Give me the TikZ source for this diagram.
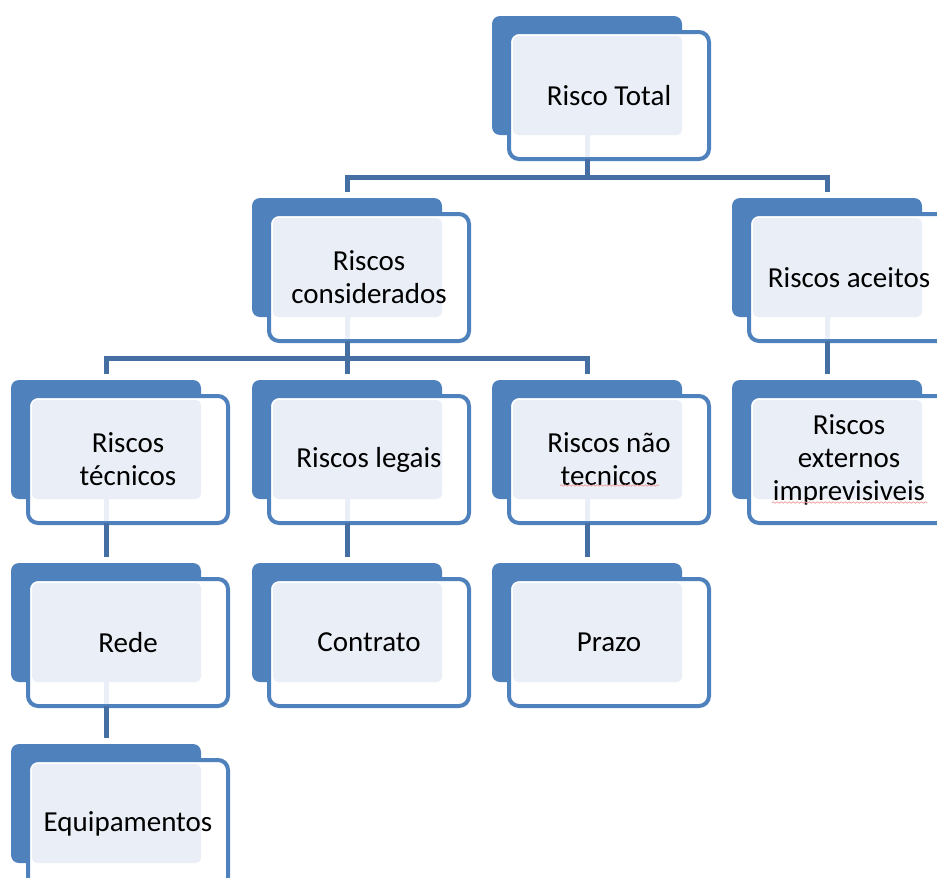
\documentclass[tikz,border=0pt]{standalone}
\usepackage{fontspec}
\setmainfont{Carlito}
\usetikzlibrary{calc,decorations.pathmorphing}
\definecolor{bblue}{HTML}{4F81BD}
\definecolor{cblue}{HTML}{456FA3}
\definecolor{lfill}{HTML}{EAEFF7}
\definecolor{spell}{HTML}{F2A3A3}
\tikzset{
  backbox/.style={rectangle, fill=bblue, rounded corners=8pt, minimum width=190pt, minimum height=119pt, inner sep=0pt, outer sep=0pt, anchor=north west},
  frontbox/.style={rectangle, draw=bblue, line width=4pt, fill=white, rounded corners=10pt, minimum width=200pt, minimum height=127pt, inner sep=0pt, outer sep=0pt, anchor=north west},
  conn/.style={draw=cblue, line width=5pt},
  stripe/.style={draw=lfill, line width=5pt},
  lbl/.style={align=center, inner sep=0pt, text=black, font=\fontsize{29}{33}\selectfont},
  spellline/.style={draw=spell, line width=0.8pt, decorate, decoration={snake, amplitude=0.7pt, segment length=4pt}}
}
\newcommand\riskbox[4]{%
  \node[backbox] (#1-back) at (#2,#3) {};
  \node[frontbox] (#1-front) at ($(#2,#3)+(17,16)$) {};
  \fill[lfill, rounded corners=5pt] ($(#1-front.north west)+(4,4)$) rectangle (#1-back.south east);
  \node[lbl] (#1-label) at (#1-front.center) {#4};
}
\newcommand\parentstripe[1]{%
  \draw[stripe] (#1-back.south) -- ([yshift=2pt]#1-back.south |- #1-front.south);
}
\begin{document}
\begin{tikzpicture}[x=1pt, y=-1pt]
\useasboundingbox (0,0) rectangle (937,878);
\clip (0,0) rectangle (937,878);
\fill[white] (0,0) rectangle (937,878);

\coordinate (bus1) at (587,177);
\coordinate (bus2) at (347,358);

% row 0
\riskbox{tot}{492}{16}{Risco Total}
% row 1
\riskbox{cons}{252}{198}{Riscos\\considerados}
\riskbox{acc}{732}{198}{Riscos aceitos}
% row 2
\riskbox{tec}{11}{380}{Riscos\\técnicos}
\riskbox{leg}{252}{380}{Riscos legais}
\riskbox{ntec}{492}{380}{Riscos não\\tecnicos}
\riskbox{ext}{732}{380}{Riscos\\externos\\imprevisiveis}
% row 3
\riskbox{rede}{11}{563}{Rede}
\riskbox{contr}{252}{563}{Contrato}
\riskbox{prazo}{492}{563}{Prazo}
% row 4
\riskbox{equip}{11}{744}{Equipamentos}

% light traces of the connectors inside the parent boxes
\parentstripe{tot}
\parentstripe{cons}
\parentstripe{acc}
\parentstripe{tec}
\parentstripe{leg}
\parentstripe{ntec}
\parentstripe{rede}

% connectors
\draw[conn] (tot-back.center |- tot-front.south) -- (bus1);
\draw[conn] ([yshift=6pt]cons-back.north) |- (bus1) -| ([yshift=6pt]acc-back.north);

\draw[conn] ([yshift=6pt]tec-back.north) |- (bus2) -| ([yshift=6pt]ntec-back.north);
\draw[conn] (cons-back.center |- cons-front.south) -- ([yshift=6pt]leg-back.north);

\draw[conn] (acc-back.center |- acc-front.south) -- ([yshift=6pt]ext-back.north);
\draw[conn] (tec-back.center |- tec-front.south) -- ([yshift=6pt]rede-back.north);
\draw[conn] (leg-back.center |- leg-front.south) -- ([yshift=6pt]contr-back.north);
\draw[conn] (ntec-back.center |- ntec-front.south) -- ([yshift=6pt]prazo-back.north);
\draw[conn] (rede-back.center |- rede-front.south) -- ([yshift=6pt]equip-back.north);

% spell-check underlines
\draw[spellline] ($(ntec-front.center)+(-49,26)$) -- ($(ntec-front.center)+(50,26)$);
\draw[spellline] ($(ext-front.center)+(-77,43)$) -- ($(ext-front.center)+(78,43)$);
\end{tikzpicture}
\end{document}
